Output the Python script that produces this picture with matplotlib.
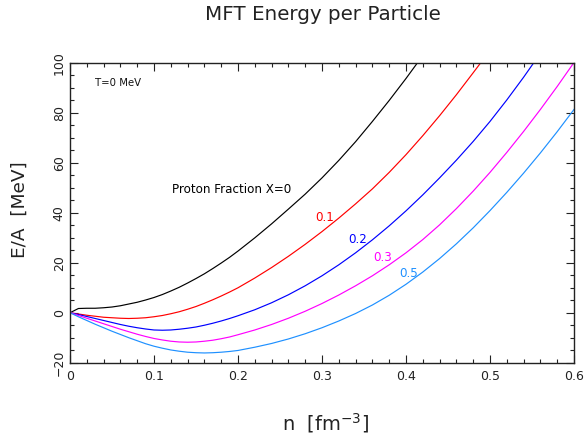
import matplotlib
matplotlib.use("Agg")
import matplotlib.pyplot as plt
from matplotlib.ticker import MultipleLocator

# Baryon density grid [fm^-3]
density = [0.00, 0.01, 0.02, 0.03, 0.04, 0.05, 0.06, 0.07, 0.08, 0.09,
           0.10, 0.11, 0.12, 0.13, 0.14, 0.15, 0.16, 0.17, 0.18, 0.19,
           0.20, 0.22, 0.24, 0.26, 0.28, 0.30, 0.32, 0.34, 0.36, 0.38,
           0.40, 0.42, 0.44, 0.46, 0.48, 0.50, 0.52, 0.54, 0.56, 0.58, 0.60]

# Energy per particle [MeV] for each proton fraction
energy_x00 = [0.0, 1.7, 1.8, 1.8, 2.0, 2.3, 2.8, 3.5, 4.2, 5.1,
              6.1, 7.3, 8.7, 10.2, 11.9, 13.7, 15.6, 17.7, 19.9, 22.2,
              24.7, 30.0, 35.6, 41.5, 47.5, 54.0, 61.0, 68.5, 76.6, 85.0,
              93.8, 103.0]
energy_x01 = [0.0, -0.5, -1.0, -1.4, -1.8, -2.0, -2.2, -2.3, -2.2, -2.0,
              -1.6, -1.1, -0.4, 0.4, 1.4, 2.5, 3.8, 5.2, 6.7, 8.3,
              10.0, 13.9, 18.1, 22.6, 27.4, 32.5, 37.9, 43.6, 49.6, 56.2,
              63.3, 70.9, 78.9, 87.3, 96.1, 105.0]
energy_x02 = [0.0, -0.7, -1.5, -2.3, -3.1, -3.9, -4.7, -5.4, -6.0, -6.5,
              -6.9, -7.0, -6.9, -6.6, -6.2, -5.7, -5.0, -4.2, -3.3, -2.3,
              -1.2, 1.2, 4.0, 7.2, 10.8, 14.8, 19.2, 24.0, 29.2, 34.8,
              40.8, 47.2, 54.0, 61.1, 68.6, 76.6, 85.2, 94.3, 103.9]
energy_x03 = [0.0, -1.1, -2.2, -3.3, -4.4, -5.5, -6.6, -7.6, -8.6, -9.5,
              -10.3, -10.9, -11.4, -11.7, -11.8, -11.7, -11.4, -11.0, -10.4, -9.7,
              -8.8, -6.9, -4.7, -2.2, 0.6, 3.7, 7.1, 10.8, 14.8, 19.2,
              24.0, 29.3, 35.2, 41.7, 48.7, 56.2, 64.2, 72.6, 81.4, 90.6, 100.2]
energy_x05 = [0.0, -1.6, -3.1, -4.6, -6.0, -7.4, -8.7, -10.0, -11.2, -12.4,
              -13.4, -14.2, -14.9, -15.4, -15.8, -16.0, -16.1, -16.0, -15.8, -15.5,
              -15.1, -13.8, -12.3, -10.5, -8.4, -6.0, -3.3, -0.3, 3.1, 7.0,
              11.4, 16.3, 21.7, 27.6, 34.0, 40.9, 48.2, 55.9, 64.0, 72.5, 81.4]

series = [
    (energy_x00, "black"),
    (energy_x01, "#ff0000"),
    (energy_x02, "#0000ff"),
    (energy_x03, "#ff00ff"),
    (energy_x05, "#1e90ff"),
]

curve_labels = ["Proton Fraction X=0", "0.1", "0.2", "0.3", "0.5"]
label_pos = [(0.121, 49.5), (0.2917, 38.3), (0.331, 29.5), (0.3607, 22.3), (0.3917, 15.9)]

plt.rcParams["font.family"] = ["DejaVu Sans"]

fig = plt.figure(figsize=(5.86, 4.34), dpi=100)
ax = fig.add_axes([70 / 586, 1 - 362.7 / 434, 504 / 586, 299.7 / 434])

for values, color in series:
    ax.plot(density[:len(values)], values, color=color, lw=0.85, clip_on=True)

ax.set_xlim(0, 0.6)
ax.set_ylim(-20, 100)

ax.xaxis.set_major_locator(MultipleLocator(0.1))
ax.xaxis.set_minor_locator(MultipleLocator(0.02))
ax.yaxis.set_major_locator(MultipleLocator(20))
ax.yaxis.set_minor_locator(MultipleLocator(5))
ax.set_xticks([0, 0.1, 0.2, 0.3, 0.4, 0.5, 0.6])
ax.set_xticklabels(["0", "0.1", "0.2", "0.3", "0.4", "0.5", "0.6"])

ax.tick_params(which="both", direction="in", top=True, right=True, width=0.8,
               color="#222222", labelsize=9, labelcolor="#222222")
ax.tick_params(which="major", length=6)
ax.tick_params(which="minor", length=3)
ax.tick_params(axis="x", pad=5)
ax.tick_params(axis="y", pad=3)
for lab in ax.get_yticklabels():
    lab.set_rotation(90)
    lab.set_va("center")

for sp in ax.spines.values():
    sp.set_linewidth(1.0)
    sp.set_color("#222222")

ax.text(0.0298, 91.9, "T=0 MeV", fontsize=7.3, ha="left", va="center", color="#111111")
for text, (x, y), (_, color) in zip(curve_labels, label_pos, series):
    ax.text(x, y, text, fontsize=8.6, ha="left", va="center", color=color)

fig.text(323 / 586, 1 - 15 / 434, "MFT Energy per Particle", fontsize=14.3,
         ha="center", va="center", color="#222222")
fig.text(20 / 586, 1 - 210 / 434, "E/A  [MeV]", fontsize=13.3, rotation=90,
         ha="center", va="center", color="#222222")
fig.text(325 / 586, 1 - 423 / 434, r"n  [fm$^{-3}$]", fontsize=14,
         ha="center", va="center", color="#222222")

fig.savefig("out.png", dpi=100)
